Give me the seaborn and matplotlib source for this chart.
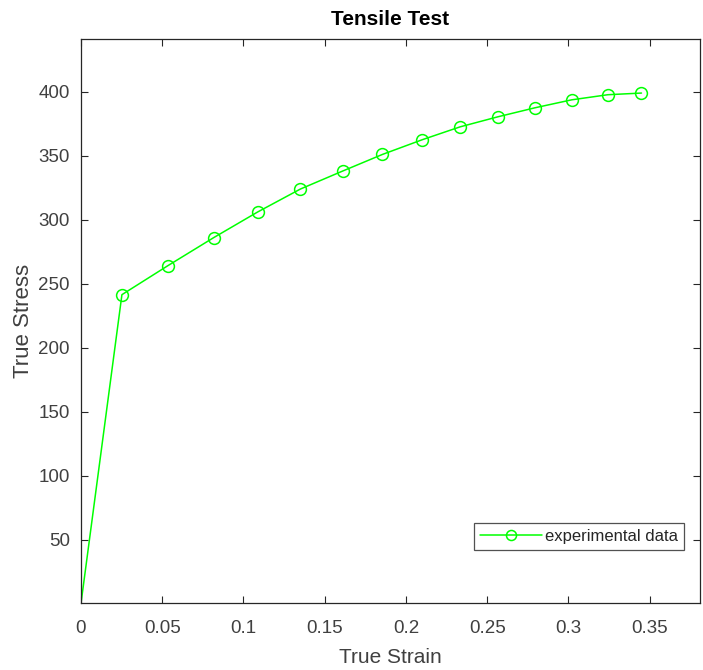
import matplotlib
matplotlib.use("Agg")
import matplotlib.pyplot as plt
import seaborn as sns
import pandas as pd

# Tensile test measurements
true_strain = [0.0, 0.0252, 0.0534, 0.0817, 0.1087, 0.1351, 0.1610, 0.1855,
               0.2100, 0.2334, 0.2568, 0.2795, 0.3020, 0.3243, 0.3450]
true_stress = [0.0, 241.4, 264.0, 286.0, 306.0, 324.0, 338.0, 351.0,
               362.5, 372.6, 380.5, 387.5, 393.7, 397.7, 399.0]
series_label = "experimental data"
x_ticks = [0, 0.05, 0.1, 0.15, 0.2, 0.25, 0.3, 0.35]
x_tick_labels = ["0", "0.05", "0.1", "0.15", "0.2", "0.25", "0.3", "0.35"]
y_ticks = [50, 100, 150, 200, 250, 300, 350, 400]

sns.set_theme(style="white")
plt.rcParams["font.family"] = ["Liberation Sans", "DejaVu Sans"]

df = pd.DataFrame({"strain": true_strain, "stress": true_stress,
                   "series": series_label})

fig = plt.figure(figsize=(7.03, 6.70), dpi=100)
ax = fig.add_axes([0.1152, 0.0993, 0.8805, 0.8420])

# circles on every measured point except the origin
sns.lineplot(data=df, x="strain", y="stress", hue="series",
             palette=["#00ff00"], marker="o", markersize=8.5,
             markerfacecolor="none", markeredgecolor="#00ff00",
             markeredgewidth=1.1, linewidth=1.1, sort=False,
             estimator=None, markevery=list(range(1, len(true_strain))),
             ax=ax)

ax.set_xlim(0, 0.381)
ax.set_ylim(0, 441)
ax.set_xticks(x_ticks)
ax.set_xticklabels(x_tick_labels)
ax.set_yticks(y_ticks)

txt = "#404040"
for s in ax.spines.values():
    s.set_color("#262626")
    s.set_linewidth(0.9)
ax.tick_params(direction="in", length=5, width=0.8, color="#262626",
               labelsize=13.5, labelcolor=txt, top=True, right=True,
               left=True, bottom=True)
ax.tick_params(axis="x", pad=12)
ax.tick_params(axis="y", pad=8)

ax.set_xlabel("True Strain", fontsize=15, color=txt, labelpad=8)
ax.set_ylabel("True Stress", fontsize=16, color=txt, labelpad=3)
ax.set_title("Tensile Test", fontsize=15, fontweight="bold",
             color="#000000", pad=10)

leg = ax.legend(loc="lower right", bbox_to_anchor=(0.974, 0.095),
                fontsize=12, frameon=True, fancybox=False,
                handlelength=3.7, borderpad=0.35, handletextpad=0.2,
                borderaxespad=0.0, markerscale=0.85)
leg.get_frame().set_edgecolor("#262626")
leg.get_frame().set_linewidth(0.9)
for t in leg.get_texts():
    t.set_color("#262626")

fig.savefig("out.png", dpi=100, facecolor="white")
